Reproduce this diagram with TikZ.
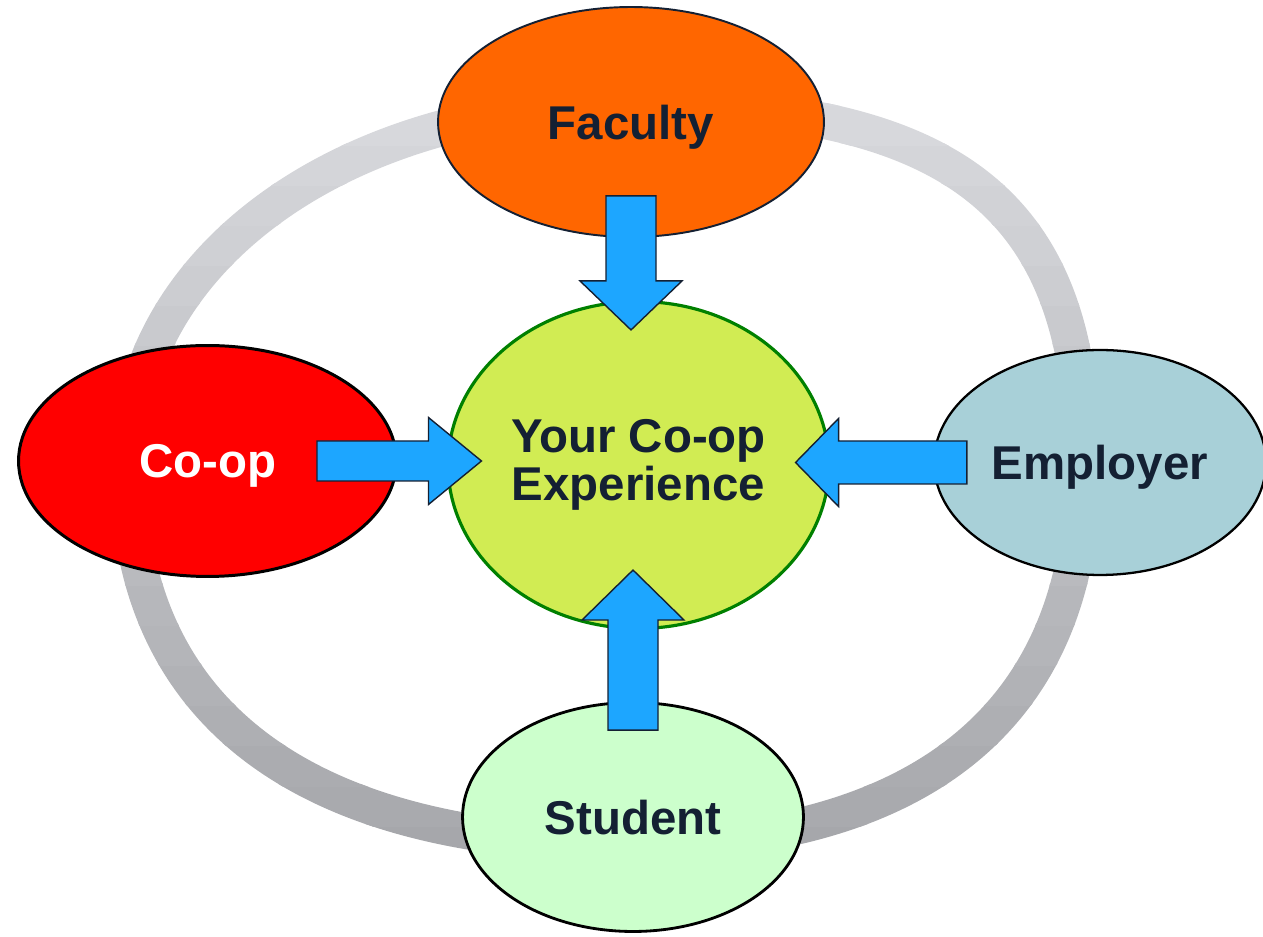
\documentclass[tikz,border=0pt]{standalone}
\usepackage{fontspec}
\setmainfont{Liberation Sans}
\usetikzlibrary{shapes.geometric,calc}
\definecolor{ringhi}{RGB}{218,219,223}
\definecolor{ringlo}{RGB}{166,167,171}
\definecolor{labelnavy}{RGB}{20,32,51}
\definecolor{facorange}{RGB}{255,102,0}
\definecolor{coopred}{RGB}{255,0,0}
\definecolor{empblue}{RGB}{168,208,216}
\definecolor{stugreen}{RGB}{204,255,204}
\definecolor{expyellow}{RGB}{209,236,83}
\definecolor{expgreen}{RGB}{0,128,0}
\definecolor{arrowblue}{RGB}{29,166,255}

\newcommand{\blockarrow}[5]{%
	\coordinate (#1h) at ($(#2)!#5!(#1)$);
	\draw[arrowbox] ($(#1)!#3!90:(#2)$) -- ($(#1h)!#3!-90:(#1)$) -- ($(#1h)!#4!-90:(#1)$) -- (#2)
		-- ($(#1h)!#4!90:(#1)$) -- ($(#1h)!#3!90:(#1)$) -- ($(#1)!#3!-90:(#2)$) -- cycle;}

\begin{document}
\begin{tikzpicture}[x=0.02cm, y=0.02cm,
	oval/.style={ellipse, inner sep=0pt, text=labelnavy, text depth=0pt, font=\fontsize{27}{27.3}\selectfont\bfseries},
	arrowbox/.style={fill=arrowblue, draw=labelnavy, line width=0.8pt, line join=miter},
	ringline/.style={line width=0.72cm}]
	\path[use as bounding box] (0,0) rectangle (1263,936);
	\clip (0,0) rectangle (1263,936);
	
	\foreach \i in {0,...,19}{
		\pgfmathsetmacro{\mix}{\i*5.2}
		\begin{scope}
			\clip (0,{70+\i*40}) rectangle (1263,{112+\i*40});
			\draw[ringline, ringhi!\mix!ringlo] (628,832) .. controls (956,832) and (1083,731) .. (1083,470)
				.. controls (1083,224) and (924,92) .. (628,92)
				.. controls (303,92) and (128,224) .. (128,470)
				.. controls (128,676) and (343,832) .. cycle;
		\end{scope}
	}
	
	\node[oval, minimum width=7.62cm, minimum height=6.54cm, fill=expyellow, draw=expgreen, line width=1.8pt,
		align=center, text depth=] (exp) at (638.5,471) {Your Co-op\\Experience};
	\node[oval, minimum width=7.72cm, minimum height=4.6cm, fill=facorange, draw=labelnavy, line width=1.1pt] (fac) at (631,814) {Faculty};
	\node[oval, minimum width=7.56cm, minimum height=4.62cm, fill=coopred, draw=black, line width=1.7pt, text=white] (coop) at (207.5,475) {Co-op};
	\node[oval, minimum width=6.64cm, minimum height=4.5cm, fill=empblue, draw=black, line width=1.3pt] (emp) at (1100,473.5) {Employer};
	\node[oval, minimum width=6.82cm, minimum height=4.58cm, fill=stugreen, draw=black, line width=1.6pt] (stu) at (633,119) {Student};
	
	\coordinate (facout) at ($(fac.south)+(0,42)$);
	\coordinate (facin) at ($(fac.south |- exp.north)+(0,-30)$);
	\coordinate (coopout) at ($(coop.east)+(-81,0)$);
	\coordinate (coopin) at ($(exp.west |- coop.east)+(35,0)$);
	\coordinate (empout) at ($(emp.west)+(34,0)$);
	\coordinate (empin) at ($(exp.east |- emp.west)+(-35,0)$);
	\coordinate (stuout) at ($(stu.north)+(0,-29)$);
	\coordinate (stuin) at ($(stu.north |- exp.south)+(0,60)$);
	
	\blockarrow{facout}{facin}{0.5cm}{1.02cm}{0.98cm}
	\blockarrow{coopout}{coopin}{0.4cm}{0.87cm}{1.06cm}
	\blockarrow{empout}{empin}{0.43cm}{0.88cm}{0.86cm}
	\blockarrow{stuout}{stuin}{0.5cm}{1.02cm}{1.0cm}
\end{tikzpicture}
\end{document}
